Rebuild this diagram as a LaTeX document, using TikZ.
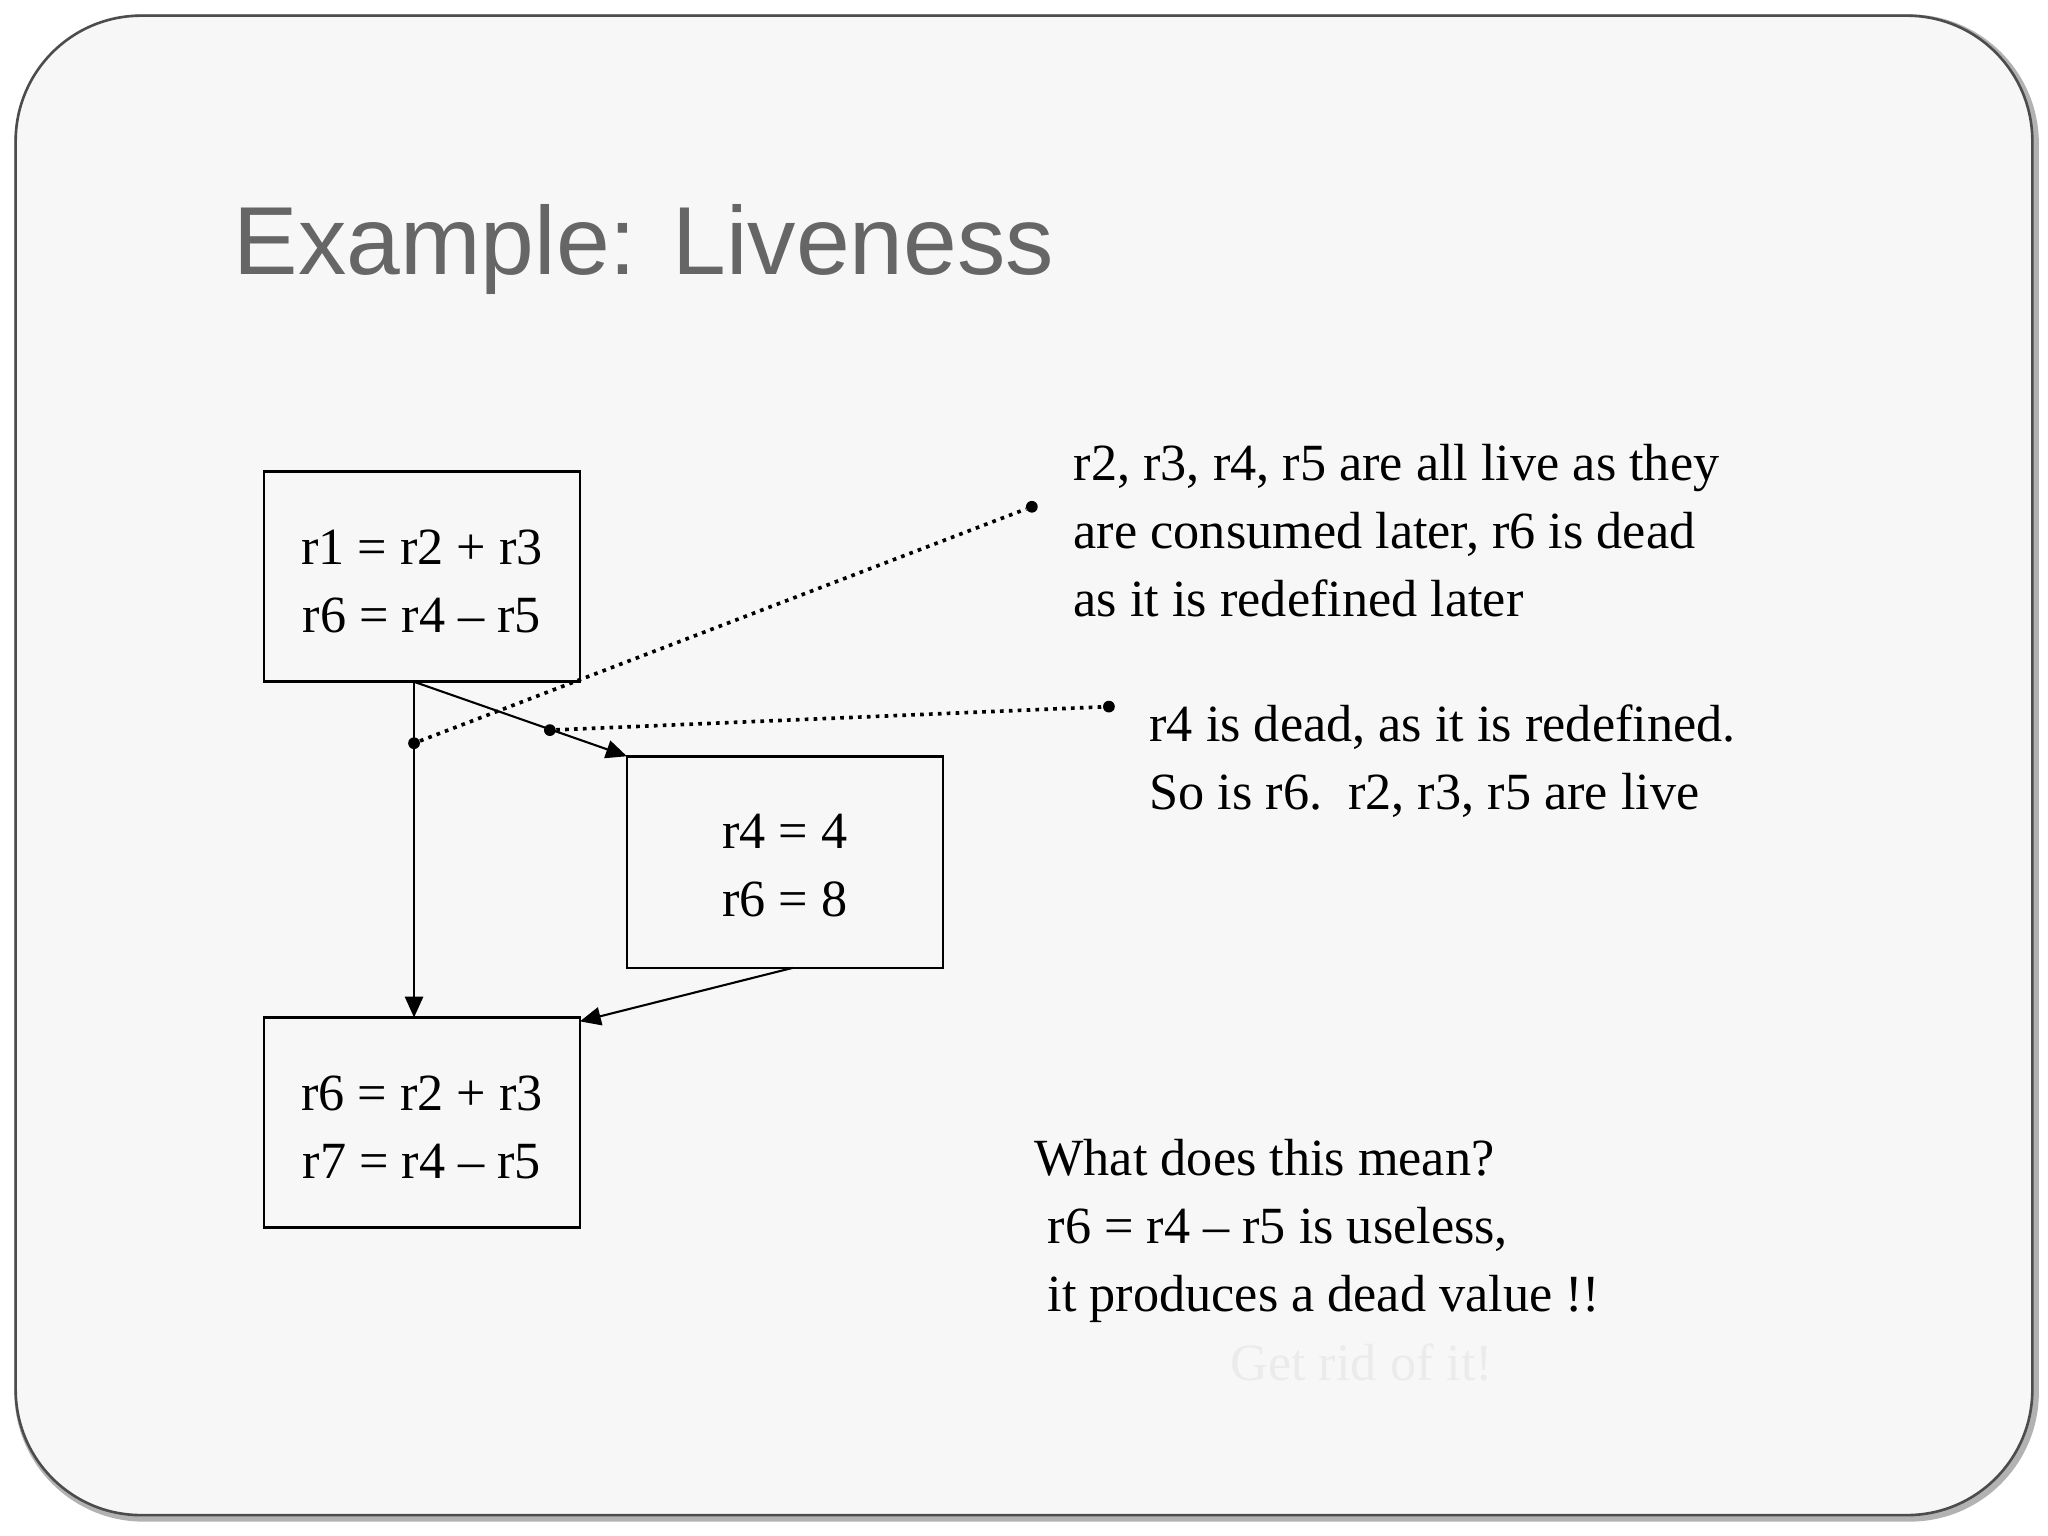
\documentclass[tikz,border=0pt]{standalone}
\usepackage{fontspec}
\setmainfont{Liberation Serif}
\newfontfamily\titlefont{Liberation Sans}
\usetikzlibrary{arrows.meta}
\begin{document}
\begin{tikzpicture}[x=0.5pt,y=-0.5pt,
  blk/.style={draw,line width=1pt},
  ln/.style={anchor=base,font=\fontsize{20}{24}\selectfont},
  tx/.style={anchor=base west,font=\fontsize{20}{24}\selectfont},
  arr/.style={-{Triangle[length=8pt,width=7pt]},line width=0.8pt},
  dots/.style={dotted,line width=1.4pt},
  dotp/.style={circle,fill,inner sep=0pt,minimum size=4.5pt}]
\useasboundingbox (0,0) rectangle (1568,1176);
\fill[white] (0,0) rectangle (1568,1176);
\draw[gray!60,line width=3pt,rounded corners=48] (14,14) rectangle (1558,1162);
\draw[black!70,fill=black!3,line width=1pt,rounded corners=48] (12,12) rectangle (1556,1160);
\node[anchor=base west,text=black!60,font=\titlefont\fontsize{37}{40}\selectfont] (title) at (172,210) {Example: Liveness};
% boxes
\draw[blk] (202,361) rectangle (444,522);
\node[ln] (a1) at (323,432) {r1 = r2 + r3};
\node[ln] (a2) at (323,484) {r6 = r4 – r5};
\draw[blk] (480,579) rectangle (722,741);
\node[ln] (b1) at (601,650) {r4 = 4};
\node[ln] (b2) at (601,702) {r6 = 8};
\draw[blk] (202,779) rectangle (444,940);
\node[ln] (c1) at (323,850) {r6 = r2 + r3};
\node[ln] (c2) at (323,902) {r7 = r4 – r5};
\coordinate (aout) at (317,522);
\coordinate (cin) at (317,779);
\coordinate (bin) at (480,579);
\coordinate (bout) at (607,741);
\coordinate (cin2) at (444,782);
\draw[arr] (aout) -- (cin);
\draw[arr] (aout) -- (bin);
\draw[arr] (bout) -- (cin2);
% dotted pointers
\node[dotp] (p1) at (317,569) {};
\node[dotp] (q1) at (790,388) {};
\node[dotp] (p2) at (421,559) {};
\node[dotp] (q2) at (849,541) {};
\draw[dots] (p1) -- (q1);
\draw[dots] (p2) -- (q2);
% texts
\node[tx] (t1) at (815,368) {r2, r3, r4, r5 are all live as they};
\node[tx] (t2) at (815,420) {are consumed later, r6 is dead};
\node[tx] (t3) at (815,472) {as it is redefined later};
\node[tx] (u1) at (873,568) {r4 is dead, as it is redefined.};
\node[tx] (u2) at (873,620) {So is r6.\ \ r2, r3, r5 are live};
\node[tx] (w1) at (785,900) {What does this mean?};
\node[tx] (w2) at (795,952) {r6 = r4 – r5 is useless,};
\node[tx] (w3) at (795,1004) {it produces a dead value !!};
\node[tx,text=black!8] (w4) at (935,1057) {Get rid of it!};
\end{tikzpicture}
\end{document}
